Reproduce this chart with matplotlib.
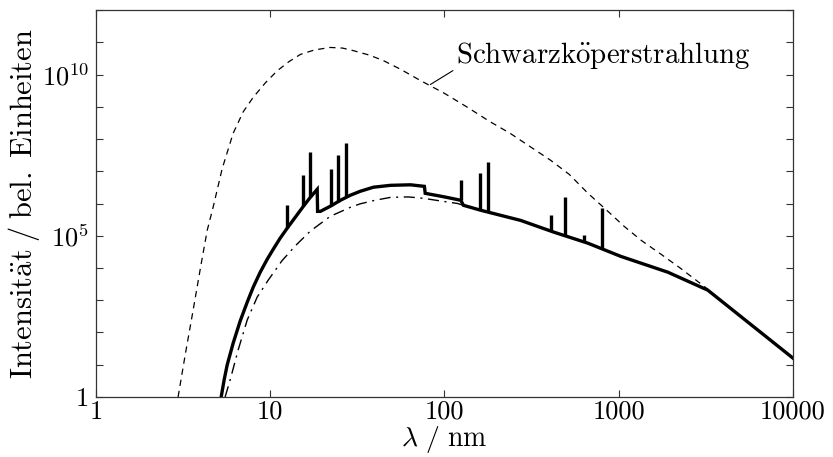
import numpy as np
import matplotlib.pyplot as plt
from matplotlib.ticker import FixedLocator, FixedFormatter, NullLocator

plt.rcParams['font.family'] = ['cmr10', 'DejaVu Serif']
plt.rcParams['mathtext.fontset'] = 'cm'
plt.rcParams['axes.formatter.use_mathtext'] = True

# Schwarzkoerperstrahlung (dashed)
bb_wl = [2.96, 3.25, 3.61, 4.0, 4.35, 4.70, 5.3, 6.12, 7.0, 7.98, 9.4, 11.0, 12.8, 14.9,
         18.0, 22.1, 26.0, 30.0, 37.0, 44.6, 56.0, 72.8, 100, 136, 180, 239, 310, 406,
         520, 664, 850, 1069, 1350, 1743, 2250, 2844, 3245]
bb_int = [1.0, 20, 490, 1.2e4, 1.48e5, 7.6e5, 1.2e7, 1.48e8, 7.0e8, 1.95e9, 5.6e9, 1.32e10,
          2.5e10, 4.2e10, 5.8e10, 6.9e10, 6.6e10, 5.5e10, 4.0e10, 2.7e10, 1.45e10, 6.5e9,
          2.6e9, 9.5e8, 3.6e8, 1.48e8, 5.8e7, 2.2e7, 8.0e6, 2.1e6, 6.3e5, 2.0e5, 7.1e4,
          2.7e4, 1.0e4, 3800, 2200]

# Spektrum (solid continuum)
sp_wl = [5.23, 5.44, 5.66, 6.13, 6.72, 7.38, 7.99, 8.76, 9.61, 10.4, 11.4, 12.5, 13.9,
         15.5, 17.0, 18.6, 18.7, 19.4, 22.1, 25.3, 28.8, 32.9, 39.1, 49, 63.8, 76.7, 77.5,
         100, 124, 128.5, 161, 273, 423, 664, 1026, 1914, 3245, 10000]
sp_int = [1.0, 3.4, 9.8, 47, 225, 873, 2550, 7400, 1.87e4, 3.8e4, 8.4e4, 1.7e5, 3.7e5,
          8.2e5, 1.56e6, 2.75e6, 5.7e5, 5.7e5, 8.2e5, 1.26e6, 1.8e6, 2.4e6, 3.2e6, 3.66e6,
          3.8e6, 3.4e6, 2.07e6, 1.6e6, 1.26e6, 8.8e5, 6.2e5, 3.0e5, 1.3e5, 5.9e4, 2.3e4,
          7400, 2050, 16]

# Emissionslinien: Wellenlaenge, Fusspunkt, Spitze
line_wl = [12.5, 15.5, 17.0, 22.4, 24.6, 27.3, 124, 159, 177, 406, 489, 629, 798]
line_lo = [1.7e5, 8.2e5, 1.56e6, 8.5e5, 1.15e6, 1.65e6, 1.26e6, 6.3e5, 5.4e5, 1.37e5,
           1.0e5, 6.3e4, 4.0e4]
line_hi = [8.8e5, 7.4e6, 3.9e7, 1.15e7, 3.3e7, 7.3e7, 5.2e6, 8.6e6, 1.9e7, 4.3e5, 1.56e6,
           1.04e5, 7.1e5]

# ohne Linien (dash-dot)
cont_wl = [5.51, 5.89, 6.55, 7.38, 8.42, 9.74, 11.7, 14.0, 17.0, 22.1, 28.8, 32.9, 40,
           49, 62, 75.7, 94.8, 119, 128]
cont_int = [1.0, 3.4, 29, 245, 1260, 4200, 1.7e4, 5.0e4, 1.4e5, 4.0e5, 7.6e5, 9.8e5,
            1.26e6, 1.55e6, 1.6e6, 1.45e6, 1.2e6, 1.0e6, 8.8e5]

fig = plt.figure(figsize=(8.33, 4.57), dpi=100)
ax = fig.add_axes([0.1152, 0.1313, 0.8368, 0.8468])

ax.plot(bb_wl, bb_int, color='black', lw=0.9, ls=(0, (5, 4)))
ax.plot(cont_wl, cont_int, color='black', lw=1.0, ls=(0, (8, 4, 1.5, 4)))
ax.plot(sp_wl, sp_int, color='black', lw=2.4, solid_joinstyle='miter')
ax.vlines(line_wl, line_lo, line_hi, color='black', lw=2.4)

ax.set_xscale('log')
ax.set_yscale('log')
ax.set_xlim(1, 1e4)
ax.set_ylim(1, 1e12)

xt = [1, 10, 100, 1000, 10000]
ax.xaxis.set_major_locator(FixedLocator(xt))
ax.xaxis.set_major_formatter(FixedFormatter(['1', '10', '100', '1000', '10000']))
ax.xaxis.set_minor_locator(NullLocator())
yt = [10.0 ** k for k in range(13)]
ylab = ['1' if k == 0 else (r'$10^{%d}$' % k if k in (5, 10) else '') for k in range(13)]
ax.yaxis.set_major_locator(FixedLocator(yt))
ax.yaxis.set_major_formatter(FixedFormatter(ylab))
ax.yaxis.set_minor_locator(NullLocator())

ax.tick_params(which='both', direction='in', top=True, right=True, length=5,
               width=0.8, color='#333333', labelsize=19)
ax.tick_params(axis='x', pad=2)
ax.tick_params(axis='y', pad=5)
for s in ax.spines.values():
    s.set_linewidth(0.9)
    s.set_color('#333333')

ax.set_xlabel(r'$\lambda\ /\ \mathrm{nm}$', fontsize=20, labelpad=0)
ax.set_ylabel(r'$\mathrm{Intensit\ddot{a}t\;/\;bel.\ Einheiten}$', fontsize=22, labelpad=0)

ax.annotate(r'$\mathrm{Schwarzk\ddot{o}perstrahlung}$', xy=(83, 4.9e9), xytext=(116, 2.2e10),
            fontsize=20.8, ha='left', va='baseline',
            arrowprops=dict(arrowstyle='-', lw=0.8, color='black', shrinkA=0,
                            shrinkB=0, relpos=(0.02, 0.2)))

fig.savefig('out.png', dpi=100)
